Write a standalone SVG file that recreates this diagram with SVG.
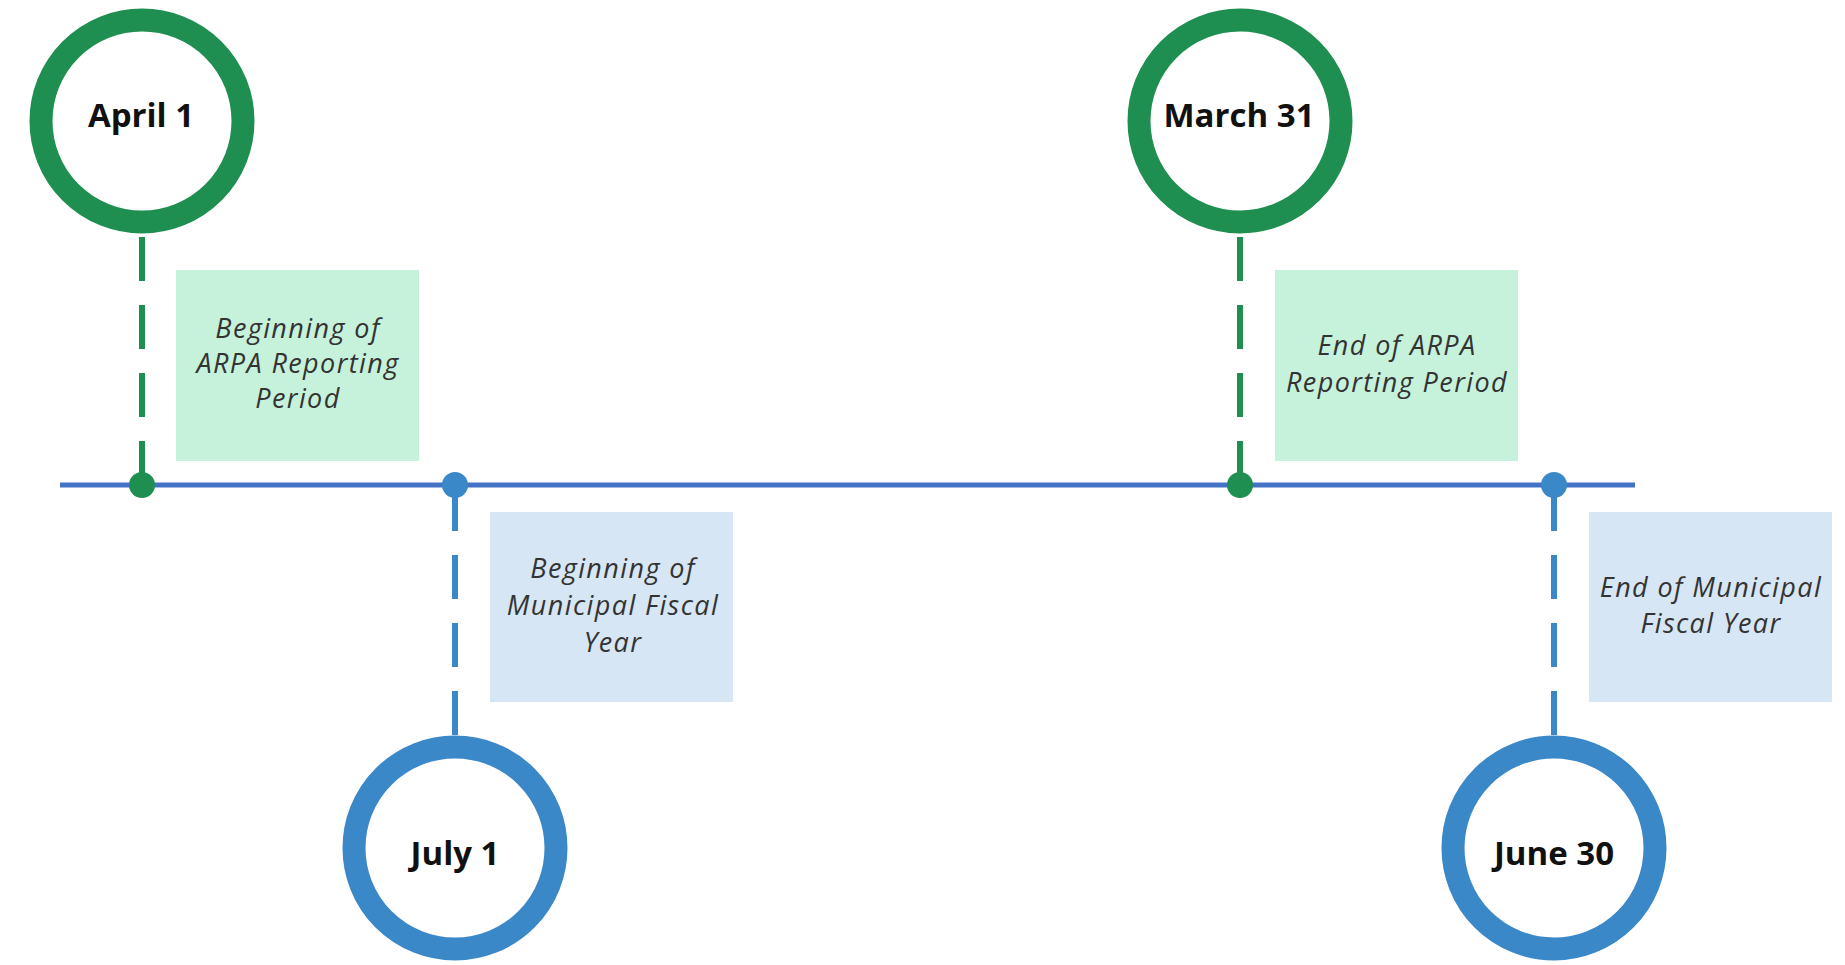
<svg xmlns="http://www.w3.org/2000/svg" width="1845" height="965" viewBox="0 0 1845 965">
<style>
.ring-g{fill:#fff;stroke:#1F8E51;stroke-width:23}
.ring-b{fill:#fff;stroke:#3A88C8;stroke-width:23}
.date{font-family:"Open Sans","Noto Sans",sans-serif;font-weight:700;font-size:33px;fill:#111;text-anchor:middle}
.note{font-family:"Open Sans","Noto Sans",sans-serif;font-style:italic;font-size:27px;letter-spacing:1.4px;fill:#333;text-anchor:middle}
.dash-g{stroke:#1F8E51;stroke-width:6;stroke-dasharray:44 24;fill:none}
.dash-b{stroke:#3A88C8;stroke-width:6;stroke-dasharray:44 24;fill:none}
.box-g{fill:#C6F2DC}
.box-b{fill:#D6E6F4}
</style>
<rect width="1845" height="965" fill="#fff"/>
<g id="connectors">
<line x1="60" y1="485" x2="1635" y2="485" stroke="#4472C4" stroke-width="5"/>
<line class="dash-g" x1="142" y1="237" x2="142" y2="485"/>
<line class="dash-g" x1="1240" y1="237" x2="1240" y2="485"/>
<line class="dash-b" x1="455" y1="735" x2="455" y2="485"/>
<line class="dash-b" x1="1554" y1="735" x2="1554" y2="485"/>
<circle cx="142" cy="485" r="13" fill="#1F8E51"/>
<circle cx="1240" cy="485" r="13" fill="#1F8E51"/>
<circle cx="455" cy="485" r="13" fill="#3A88C8"/>
<circle cx="1554" cy="485" r="13" fill="#3A88C8"/>
</g>
<g id="april1">
<circle class="ring-g" cx="142" cy="121" r="101"/>
<text class="date" x="141" y="127">April 1</text>
</g>
<g id="april1-note">
<rect class="box-g" x="176" y="270" width="243" height="191"/>
<text class="note" x="298" y="338">Beginning of</text>
<text class="note" x="298" y="373">ARPA Reporting</text>
<text class="note" x="298" y="408">Period</text>
</g>
<g id="march31">
<circle class="ring-g" cx="1240" cy="121" r="101"/>
<text class="date" x="1239" y="127">March 31</text>
</g>
<g id="march31-note">
<rect class="box-g" x="1275" y="270" width="243" height="191"/>
<text class="note" x="1397" y="355">End of ARPA</text>
<text class="note" x="1397" y="392">Reporting Period</text>
</g>
<g id="july1">
<circle class="ring-b" cx="455" cy="848" r="101"/>
<text class="date" x="455" y="865">July 1</text>
</g>
<g id="july1-note">
<rect class="box-b" x="490" y="512" width="243" height="190"/>
<text class="note" x="613" y="578">Beginning of</text>
<text class="note" x="613" y="615">Municipal Fiscal</text>
<text class="note" x="613" y="652">Year</text>
</g>
<g id="june30">
<circle class="ring-b" cx="1554" cy="848" r="101"/>
<text class="date" x="1554" y="865">June 30</text>
</g>
<g id="june30-note">
<rect class="box-b" x="1589" y="512" width="243" height="190"/>
<text class="note" x="1711" y="597">End of Municipal</text>
<text class="note" x="1711" y="633">Fiscal Year</text>
</g>
</svg>
